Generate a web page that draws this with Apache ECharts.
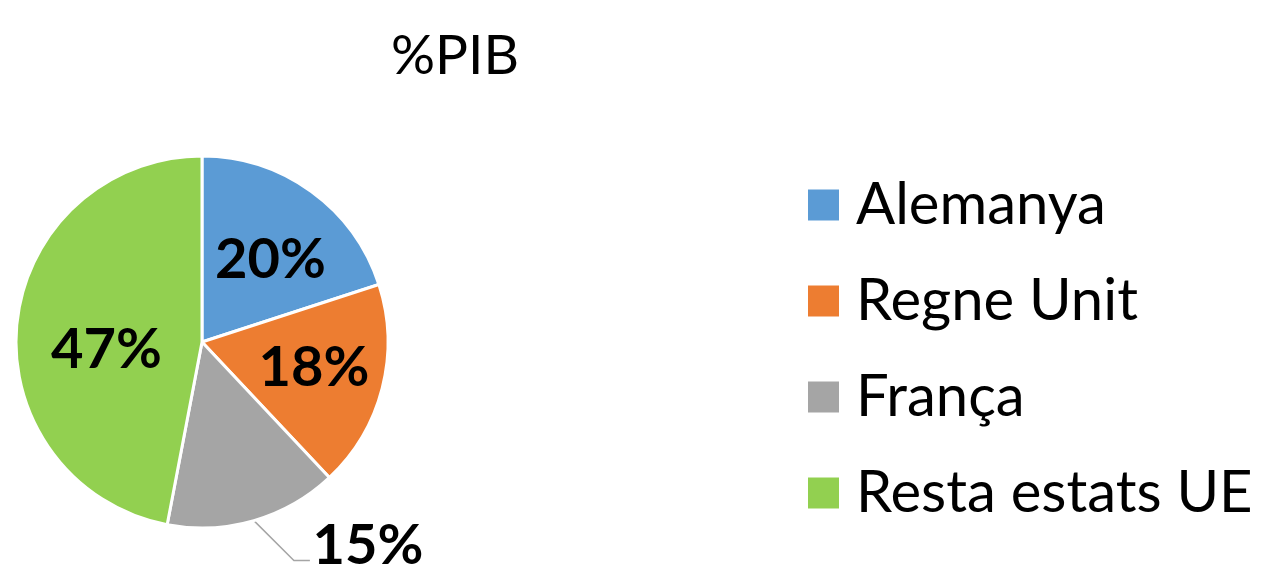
<!DOCTYPE html>
<html><head><meta charset="utf-8">
<script src="https://cdn.jsdelivr.net/npm/echarts@6/dist/echarts.min.js"></script>
<style>html,body{margin:0;padding:0;background:#fff}#c{width:1262px;height:566px}</style>
</head><body><div id="c"></div>
<script>
const titleText = '%PIB';
const categories = ['Alemanya', 'Regne Unit', 'França', 'Resta estats UE'];
const values = [20, 18, 15, 47];
const colors = ['#5B9BD5', '#ED7D31', '#A5A5A5', '#92D050'];
const FONT = 'Lato';
// label nudges (pixels) to mimic the original label placement
const labelShift = [[12, -4], [19, 2], [26, -18], [0, 17]];

const chart = echarts.init(document.getElementById('c'), null, {renderer: 'canvas'});
const data = categories.map((name, i) => {
  const item = {name: name, value: values[i], itemStyle: {color: colors[i]}};
  if (i === 2) {
    item.label = {position: 'outside'};
    item.labelLine = {show: true, length: 45, length2: 15, lineStyle: {color: '#A5A5A5', width: 1.5}};
  }
  return item;
});
chart.setOption({
  animation: false,
  title: {
    text: titleText, left: 450, top: 24, textAlign: 'center',
    textStyle: {fontFamily: FONT, fontSize: 55, fontWeight: 'normal', color: '#000'}
  },
  legend: {
    orient: 'vertical', left: 808, top: 176, padding: 0, itemWidth: 31, itemHeight: 31, itemGap: 38,
    icon: 'rect', selectedMode: false,
    itemStyle: {borderWidth: 0},
    textStyle: {fontFamily: FONT, fontSize: 58, color: '#000', padding: [0, 0, 0, 12], lineHeight: 56}
  },
  series: [{
    type: 'pie', center: [202, 342], radius: 186, startAngle: 90, clockwise: true,
    itemStyle: {borderColor: '#fff', borderWidth: 3},
    label: {show: true, position: 'inside', formatter: p => p.value + '%',
      fontFamily: FONT, fontSize: 56, fontWeight: 'bold', color: '#000'},
    labelLine: {show: false},
    labelLayout: p => {
      const r = {dx: labelShift[p.dataIndex][0], dy: labelShift[p.dataIndex][1]};
      if (p.labelLinePoints && p.labelLinePoints.length) {
        const a = p.labelLinePoints[0];
        r.labelLinePoints = [[a[0], a[1]], [a[0] + 40, a[1] + 40], [a[0] + 56, a[1] + 40]];
      }
      return r;
    },
    data: data
  }]
});
</script></body></html>
